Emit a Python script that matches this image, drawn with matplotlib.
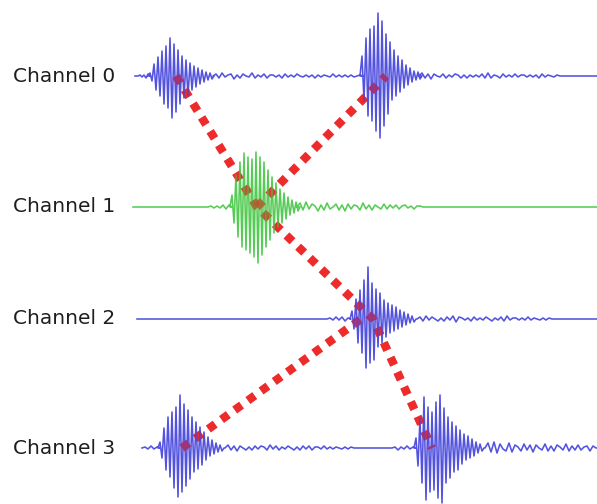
import matplotlib
matplotlib.use("Agg")
import matplotlib.pyplot as plt
import numpy as np

# ---------------- data (pixel units) ----------------
labels = ["Channel 0", "Channel 1", "Channel 2", "Channel 3"]
baselines = [76, 207, 319, 448]
trace_start = [135, 133, 137, 142]
trace_end = 597
trace_colors = ["#4040dc", "#44c644", "#4040dc", "#4040dc"]

# wiggle segments per channel: (first x, x step, displacements upward)
ch0 = [
    (140, 2, [1, -1, 1, -2, 2]),
    (150, 2, [3, -5, 12, -14, 19, -20, 25, -28, 30, -32, 38, -42, 32, -36, 26, -28,
              20, -22, 16, -20, 13, -14, 10, -11, 8, -8, 6, -6, 4, -4, 3, -3]),
    (216, 3, [2, -2, 3, -1, 1, 2, -3, 1, -2, 2, 0, -1, 3, -2, 1, -1, 2, -2, 1, 1, -1,
              1, -2, 2, -1, 1, -1, 2, 0, -1, 1, -1, 1, -2, 1, -1, 1, 0, -1, 2, -1, 1,
              -1, 1, -1, 1, -1, 0, 1]),
    (362, 2, [20, -25, 38, -40, 47, -45, 50, -55, 63, -62, 55, -50, 42, -38, 34, -24,
              26, -20, 20, -16, 16, -12, 11, -9, 8, -6, 5, -4, 4, -3]),
    (422, 3, [3, -2, 2, -3, 2, 0, -1, 2, -2, 1, -1, 2, 1, -2, 1, -2, 1, -1, 1, -1, 2,
              -2, 3, -2, 1, 0, -2, 2, -1, 1, -1, 2, -1, 1, 1, -1, 1, -1, 1, -2, 2, -1,
              1, 0, -1, 1]),
]
ch1 = [
    (211, 3, [1, -1, 1, -1, 2, -2, 2]),
    (232, 2, [12, -16, 32, -30, 45, -40, 54, -43, 50, -46, 48, -50, 55, -56, 50, -48,
              45, -40, 37, -33, 30, -26, 24, -20, 18, -16, 14, -12, 10, -8, 7, -6, 5, -4]),
    (300, 3, [4, -3, 5, -2, 3, 1, -4, 2, -3, 4, -2, 0, 3, -3, 2, -4, 3, -2, 2, 1, -3,
              4, -2, 2, -3, 2, 0, -2, 3, -2, 2, -1, 2, -2, 1, 2, -1, 1, -2, 1, 1]),
]
ch2 = [
    (330, 3, [1, -1, 2, -1, 2, -2, 1]),
    (352, 2, [8, -10, 20, -24, 29, -34, 39, -49, 52, -44, 36, -41, 30, -28, 26, -24,
              19, -18, 16, -14, 14, -12, 12, -10, 9, -8, 7, -6, 5, -4, 3, -3]),
    (420, 3, [2, -2, 3, -1, 2, 0, -2, 1, -2, 2, -1, 3, -3, 2, 1, -1, 1, -2, 2, -1, 1,
              -1, 2, 0, -2, 1, -1, 2, -2, 3, -1, 1, 1, -1, 1, -1, 2, -1, 1, 0, -1, 1,
              -1, 1]),
]
ch3 = [
    (145, 3, [1, -1, 2, -1, 1]),
    (160, 2, [6, -10, 20, -22, 31, -29, 36, -40, 41, -49, 53, -44, 44, -38, 38, -31,
              31, -24, 26, -21, 21, -17, 16, -12, 11, -8, 8, -6, 5, -4, 3, -3]),
    (228, 3, [3, -2, 2, -3, 2, 0, -2, 1, -2, 2, -1, 2, 1, -2, 3, -1, 2, -2, 1, -1,
              2, 0, -2, 1, -2, 2, -1, 2, -2, 1, 1, -1, 2, -1, 1, -1, 1, 0, -1, 1, -1,
              1, 0]),
    (395, 3, [1, -2, 1, -1, 2, -1, 1]),
    (416, 2, [10, -18, 30, -35, 51, -52, 41, -44, 36, -42, 46, -50, 53, -55, 40, -35,
              31, -30, 26, -24, 22, -22, 18, -16, 14, -12, 12, -10, 9, -8, 6, -5, 4, -3]),
    (488, 3, [5, -4, 6, -5, 4, -1, -3, 5, -4, 3, 1, -3, 4, -2, 3, -4, 3, 0, -2, 4, -3,
              2, -3, 3, 1, -2, 4, -3, 2, -2, 3, -2, 1, 2, -3, 2]),
]
channels = [ch0, ch1, ch2, ch3]

# arrival picks connected by the red dotted lines: (channel index, x)
path_a = [(0, 176), (1, 257), (2, 373), (3, 432)]
path_b = [(3, 182), (2, 361)]
path_c = [(1, 257), (0, 386)]
paths = [path_a, path_b, path_c]

# ---------------- drawing ----------------
W, H = 597, 504
fig = plt.figure(figsize=(W / 100, H / 100), dpi=100)
ax = fig.add_axes([0, 0, 1, 1])
ax.set_xlim(0, W)
ax.set_ylim(H, 0)
ax.axis("off")

for path in paths:
    xs = [p[1] for p in path]
    ys = [baselines[p[0]] for p in path]
    for z, a in ((1, 1.0), (3, 0.35)):
        ln, = ax.plot(xs, ys, color="#ee2b2b", lw=6.0, zorder=z, alpha=a,
                      solid_capstyle="butt", dash_capstyle="butt")
        ln.set_dashes((1.0, 0.95))

for i, segs in enumerate(channels):
    xs = [trace_start[i]]
    vs = [0]
    for x0, dx, vals in segs:
        xs.append(x0 - dx)
        vs.append(0)
        for k, v in enumerate(vals):
            xs.append(x0 + k * dx)
            vs.append(v)
        xs.append(x0 + len(vals) * dx)
        vs.append(0)
    xs.append(trace_end)
    vs.append(0)
    ys = [baselines[i] - v for v in vs]
    ax.plot(xs, ys, color=trace_colors[i], lw=1.15, zorder=2, alpha=0.9)
    ax.text(13, baselines[i], labels[i], fontsize=14.5, color="#1e1e1e",
            ha="left", va="center", family="DejaVu Sans")

fig.savefig("out.png", dpi=100)
